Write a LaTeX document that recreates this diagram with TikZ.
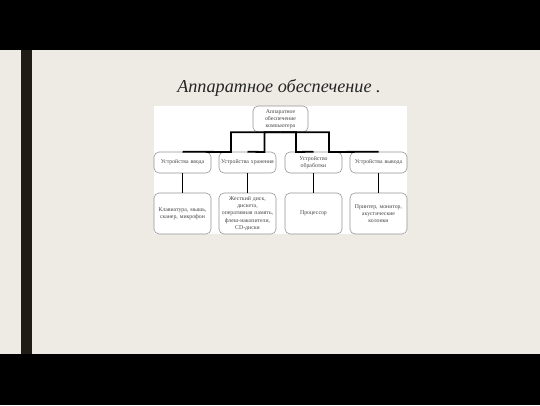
\documentclass[tikz,border=0pt]{standalone}
\usepackage{fontspec}
\setmainfont{Liberation Serif}
\usetikzlibrary{calc}

\definecolor{slide}{RGB}{237,235,228}
\definecolor{sidebar}{RGB}{30,28,20}
\definecolor{boxline}{RGB}{150,150,150}
\definecolor{boxtext}{RGB}{70,70,70}

\begin{document}
\begin{tikzpicture}[x=1pt, y=-1pt,
  box/.style = {draw=boxline, fill=white, rounded corners=5pt, line width=0.6pt,
    inner sep=0pt, minimum width=57pt, text width=55pt, align=center,
    text=boxtext, font=\fontsize{5.8}{7.3}\selectfont},
  link/.style = {line width=1.8pt, black}]

% slide
\useasboundingbox (0,0) rectangle (540,405);
\fill[black] (0,0) rectangle (540,405);
\fill[slide] (0,50) rectangle (540,354);
\fill[sidebar] (21.3,50) rectangle (31.7,354);
\fill[white] (154,106) rectangle (407,234);

\node[text=black!85, font=\fontsize{18.2}{22}\selectfont\itshape] (title) at (279,88)
  {Аппаратное обеспечение .};

% top
\node[box, minimum width=55pt, text width=52pt, minimum height=26pt] (hw) at (280.5,119)
  {Аппаратное\\обеспечение\\компьютера};

% level 2
\node[box, minimum height=21pt] (inp) at (182.5,162.5) {Устройства ввода};
\node[box, minimum height=21pt] (sto) at (247.5,162.5) {Устройства хранения};
\node[box, minimum height=21pt] (cpu) at (313.5,162.5) {Устройство\\обработки};
\node[box, minimum height=21pt] (out) at (378.5,162.5) {Устройства вывода};

% level 3
\node[box, minimum height=41pt] (inpx) at (182.5,213.5) {Клавиатура, мышь,\\сканер, микрофон};
\node[box, minimum height=41pt] (stox) at (247.5,213.5)
  {Жесткий диск,\\дискета,\\оперативная память,\\флеш-накопители,\\CD-диски};
\node[box, minimum height=41pt] (cpux) at (313.5,213.5) {Процессор};
\node[box, minimum height=41pt] (outx) at (378.5,213.5) {Принтер, монитор,\\акустические\\колонки};

% bus
\coordinate (b1) at (231,152);
\coordinate (b2) at (264.5,152);
\coordinate (b3) at (296,152);
\coordinate (b4) at (329,152);

\draw[link] (hw.south) -| (b1) -- (inp.north);
\draw[link] (hw.south) -| (b2) -- (sto.north);
\draw[link] (hw.south) -| (b3) -- (cpu.north);
\draw[link] (hw.south) -| (b4) -- (out.north);

\draw[link] (inp) -- (inpx);
\draw[link] (sto) -- (stox);
\draw[link] (cpu) -- (cpux);
\draw[link] (out) -- (outx);
\end{tikzpicture}
\end{document}
